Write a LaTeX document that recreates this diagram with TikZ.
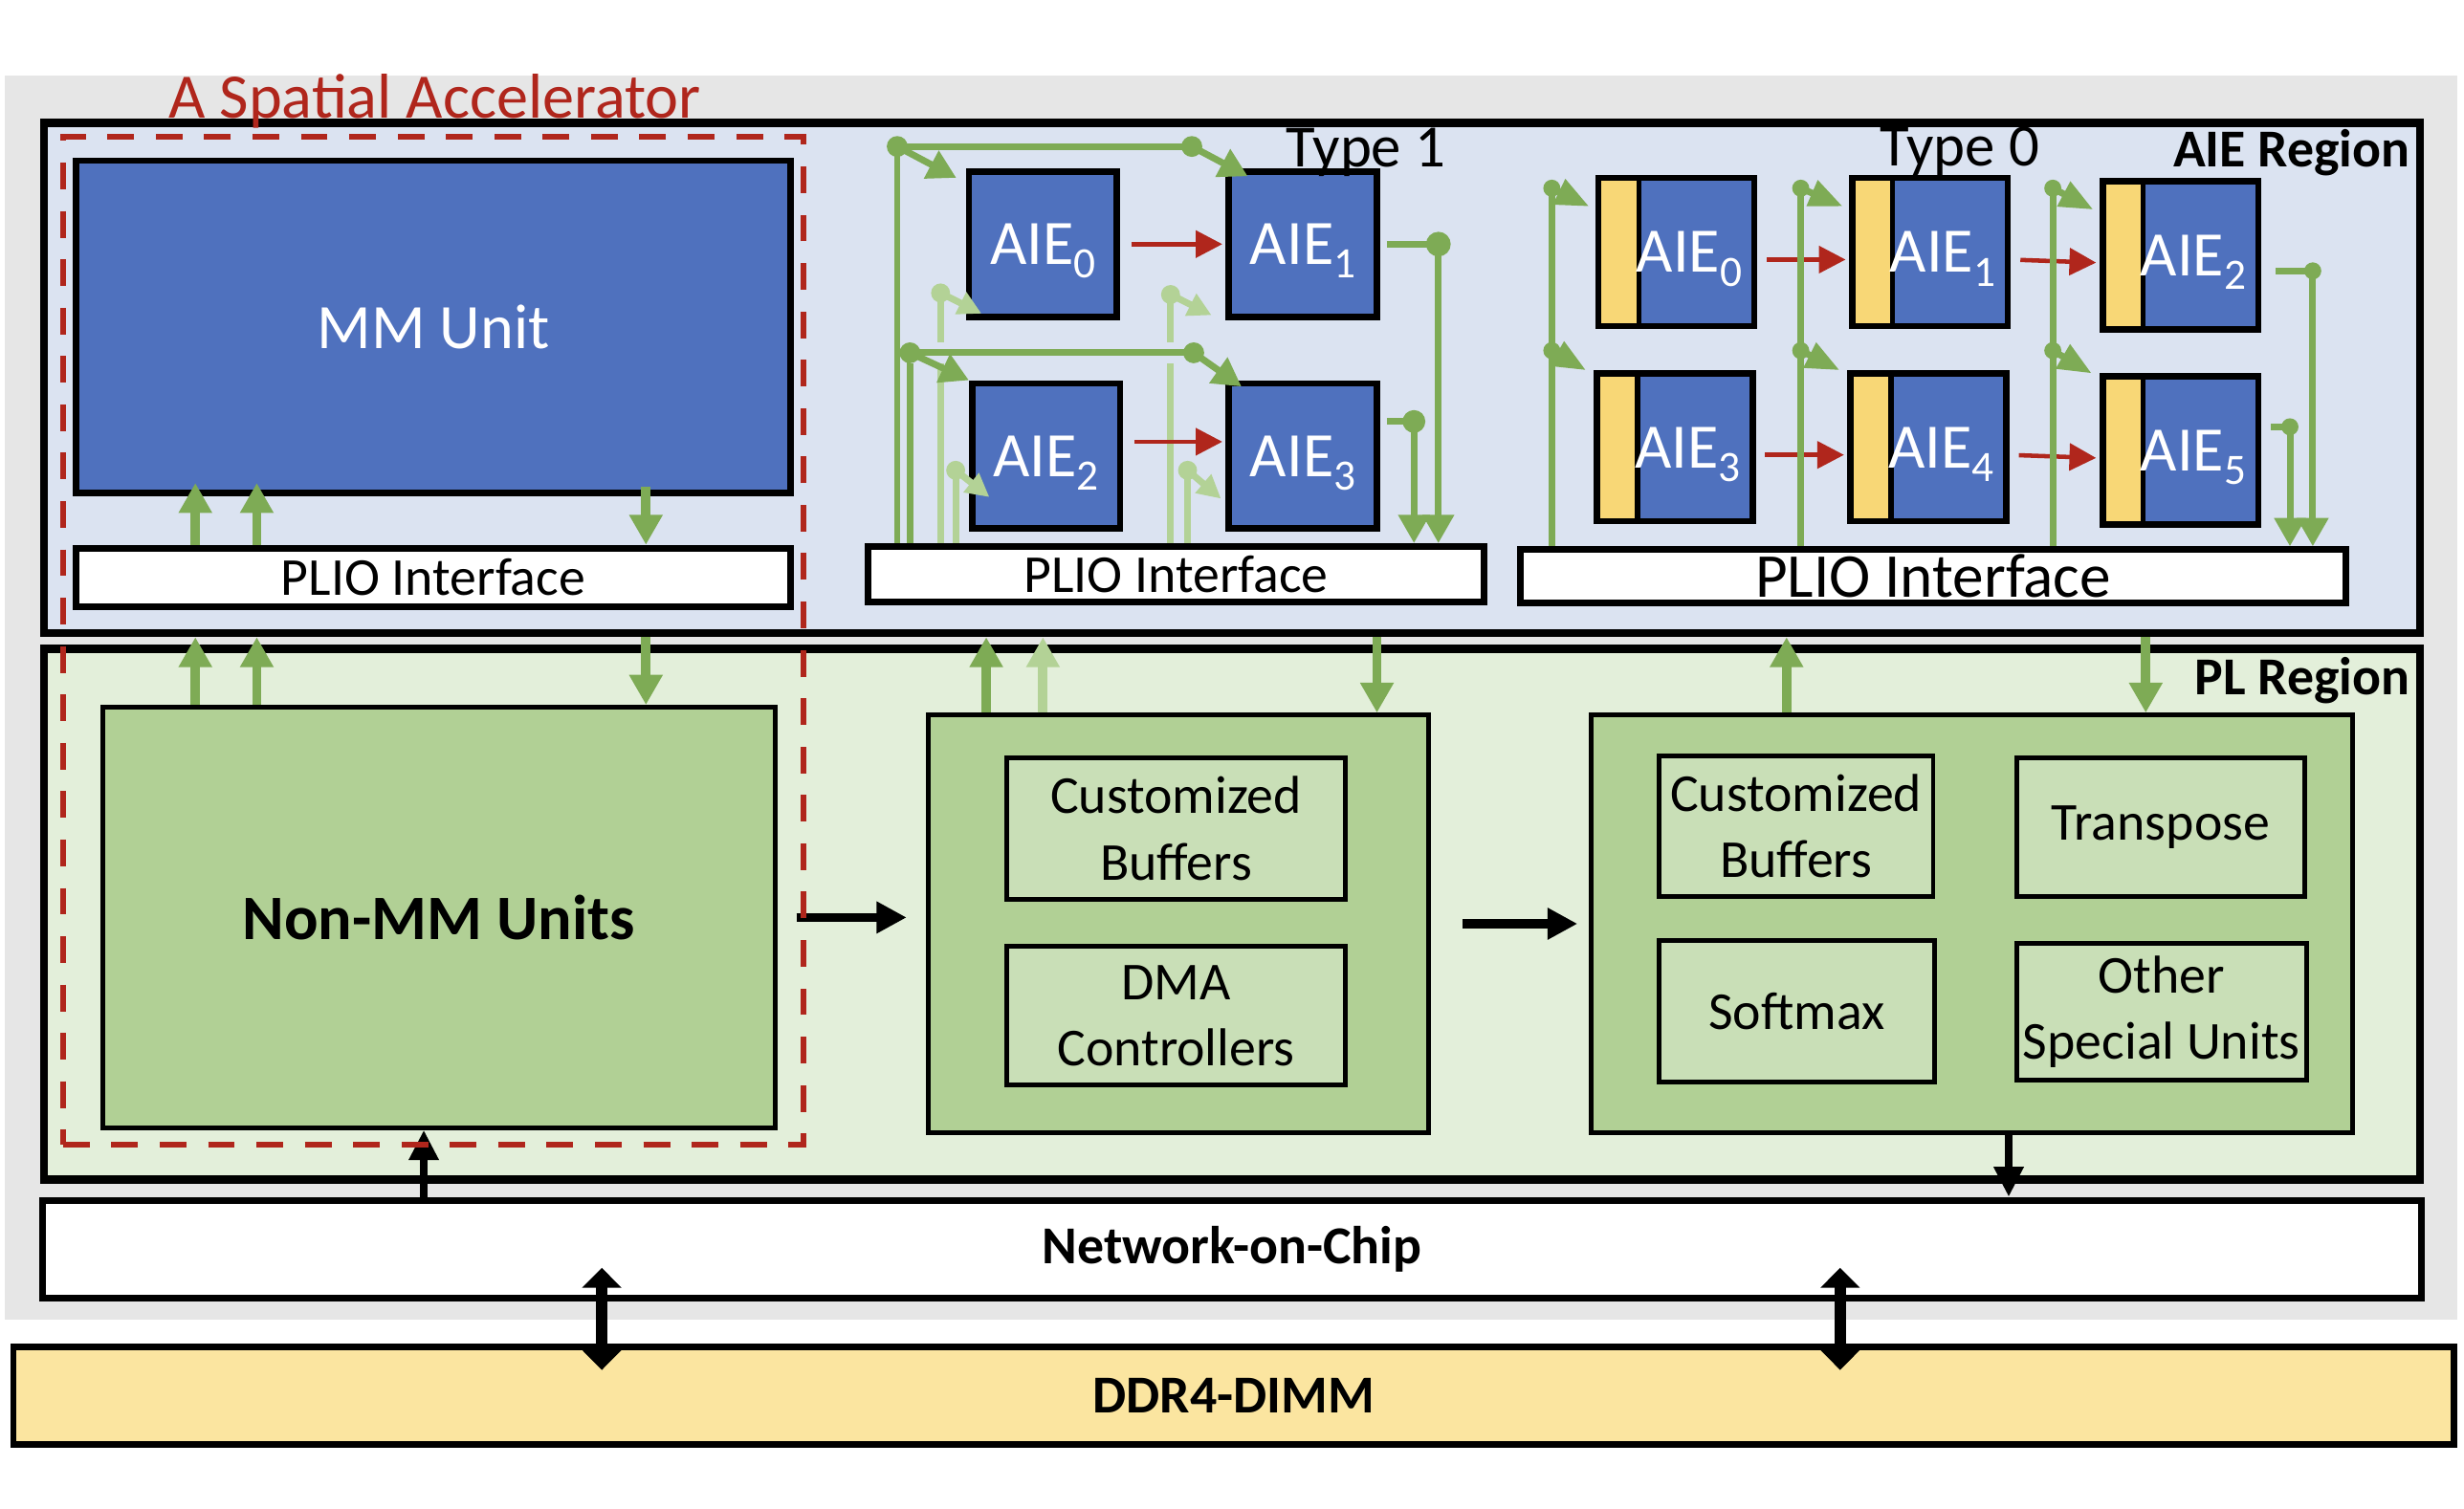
\documentclass[tikz,border=0pt]{standalone}
\usepackage{fontspec}
\setmainfont{Carlito}
\usepackage{xcolor}
\usepackage{tikz}
\usetikzlibrary{arrows.meta}
\definecolor{c_bg}{HTML}{E6E6E6}
\definecolor{c_aie}{HTML}{DBE3F1}
\definecolor{c_pl}{HTML}{E3EFDA}
\definecolor{c_blue}{HTML}{4F71BE}
\definecolor{c_block}{HTML}{B1D095}
\definecolor{c_unit}{HTML}{C9DFB7}
\definecolor{c_ddr}{HTML}{FBE5A0}
\definecolor{c_strip}{HTML}{F8D776}
\definecolor{c_wire}{HTML}{7EAB55}
\definecolor{c_wire2}{HTML}{B3D296}
\definecolor{c_red}{HTML}{B0261C}
\newcommand{\aielab}[1]{AIE\raisebox{-0.45ex}{\fontsize{13}{15}\selectfont #1}}
\tikzset{boxsize/.style 2 args={minimum width=#1*0.0166cm, minimum height=#2*0.0166cm},
region/.style={rectangle, draw=black, line width=2.4pt, inner sep=0pt},
mm-box/.style={rectangle, draw=black, line width=2pt, fill=c_blue, inner sep=0pt, text=white, font=\fontsize{19}{23}\selectfont},
plio-box/.style={rectangle, draw=black, line width=2pt, fill=white, inner sep=0pt, font=\fontsize{16}{19}\selectfont},
pl-box/.style={rectangle, draw=black, line width=1.4pt, fill=c_block, inner sep=0pt},
unit-box/.style={rectangle, draw=black, line width=1.4pt, fill=c_unit, inner sep=0pt, align=center, font=\fontsize{16}{20}\selectfont},
acc-box/.style={rectangle, draw=c_red, line width=1.7pt, dash pattern=on 8pt off 6.5pt, inner sep=0pt},
tile/.style={rectangle, draw=black, line width=1.9pt, fill=c_blue, text=white, inner sep=0pt, text depth=0pt, minimum width=1.56cm, minimum height=1.53cm, font=\fontsize{19}{23}\selectfont},
tile0/.style={tile, minimum width=1.64cm, minimum height=1.56cm, execute at begin node={\hspace*{0.27cm}},
  path picture={\fill[c_strip] (path picture bounding box.north west) rectangle ([xshift=0.4cm]path picture bounding box.south west);
  \draw[black, line width=1.6pt] ([xshift=0.427cm]path picture bounding box.north west) -- ([xshift=0.427cm]path picture bounding box.south west);}},
label-text/.style={inner sep=0pt, font=\fontsize{16}{19}\selectfont\bfseries},
wire/.style={color=c_wire, line width=2pt},
wire2/.style={color=c_wire2, line width=2pt},
warrow/.style={wire, -{Triangle[width=9pt,length=8.5pt]}},
warrow2/.style={wire2, -{Triangle[width=7pt,length=7pt]}},
zarrow/.style={wire, -{Triangle[width=8pt,length=10pt]}},
parrow/.style={color=c_wire, line width=2.8pt, -{Triangle[width=9.5pt,length=9pt]}},
redarrow/.style={color=c_red, line width=1.3pt, -{Triangle[width=8pt,length=8pt]}},
barrow/.style={color=black, line width=2.8pt, -{Triangle[width=9pt,length=9pt]}},
barrow2/.style={color=black, line width=2.2pt, -{Triangle[width=8.5pt,length=9pt]}},
darrow/.style={color=black, line width=3.6pt, {Triangle[width=11.5pt,length=6pt]}-{Triangle[width=11.5pt,length=6pt]}}}

\begin{document}
\begin{tikzpicture}[x=0.0166cm, y=-0.0166cm]
\useasboundingbox (0,0) rectangle (1564,958);
\fill[c_bg] (3,48) rectangle (1560,838);

\node (aie) [region, fill=c_aie, boxsize={1508}{324}] at (782,240) {};
\node (pl) [region, fill=c_pl, boxsize={1508}{337}] at (782,580.5) {};
\node (noc) [region, fill=white, line width=2pt, boxsize={1510}{62}, font=\fontsize{16}{19}\selectfont\bfseries] at (782,793) {Network-on-Chip};
\node (ddr) [region, fill=c_ddr, line width=2pt, boxsize={1549}{62}, font=\fontsize{16}{19}\selectfont\bfseries] at (783,886) {DDR4-DIMM};

\node (mm) [mm-box, boxsize={454}{211}] at (275,207.5) {MM Unit};
\node (plioa) [plio-box, boxsize={454}{37}] at (275,366.5) {PLIO Interface};
\node (pliob) [plio-box, boxsize={391}{35}] at (746.5,364.5) {PLIO Interface};
\node (plioc) [plio-box, boxsize={524}{34}, font=\fontsize{18.7}{22}\selectfont] at (1227,366) {PLIO Interface};

\node (nonmm) [pl-box, boxsize={427}{267}, font=\fontsize{19}{23}\selectfont\bfseries] at (278.5,582.5) {Non-MM Units};
\node (dmablk) [pl-box, boxsize={318}{265}] at (748,586.5) {};
\node (buf1) [unit-box, boxsize={215}{90}] at (746.5,526) {Customized\\Buffers};
\node (dma) [unit-box, boxsize={215}{88}] at (746.5,645) {DMA\\Controllers};
\node (spblk) [pl-box, boxsize={483}{265}] at (1251.5,586.5) {};
\node (buf2) [unit-box, boxsize={174}{89}] at (1140,524.5) {Customized\\Buffers};
\node (trans) [unit-box, boxsize={183}{88}] at (1371.5,525) {Transpose};
\node (softmax) [unit-box, boxsize={175}{90}] at (1140.5,642) {Softmax};
\node (other) [unit-box, boxsize={184}{87}] at (1372,642.5) {Other\\Special Units};

\node (ta0) [tile] at (662,155) {\aielab{0}};
\node (ta1) [tile] at (827,155) {\aielab{1}};
\node (ta2) [tile] at (664,289.5) {\aielab{2}};
\node (ta3) [tile] at (827,289.5) {\aielab{3}};
\foreach \n/\x/\y in {0/1064/160, 1/1225/160, 2/1384/162, 3/1063/284, 4/1224/284, 5/1384/286}
  \node (tz\n) [tile0] at (\x,\y) {\aielab{\n}};

\coordinate (r1) at (569.5,93);
\coordinate (r2) at (756.5,93);
\coordinate (r3) at (577.6,224);
\coordinate (r4) at (757.7,224);
\coordinate (l1) at (597,186);
\coordinate (l2) at (743,187);
\coordinate (l3) at (606.6,298.6);
\coordinate (l4) at (753.8,298.6);
\foreach \p in {l1,l2,l3,l4} {
  \draw[wire2] (\p) -- (\p |- pliob.north);
  \fill[c_wire2] (\p) circle[radius=0.1cm];
}
\draw[warrow2] (l1) -- ([shift={(10,-4)}]ta0.south west);
\draw[warrow2] (l2) -- ([shift={(-9,-3)}]ta1.south west);
\draw[warrow2] (l3) -- ([shift={(13,-22)}]ta2.south west);
\draw[warrow2] (l4) -- ([shift={(-3,-21)}]ta3.south west);
\draw[wire] (r1) -- (r1 |- pliob.north);
\draw[wire] (r3) -- (r3 |- pliob.north);
\draw[wire] (r1) -- (r2);
\draw[wire, preaction={draw=c_aie, line width=6.5pt}] (r3) -- (r4);
\draw[warrow] (r1) -- ([shift={(-6,6)}]ta0.north west);
\draw[warrow] (r2) -- ([shift={(14,5)}]ta1.north west);
\draw[warrow] (r3) -- (ta2.north west);
\draw[warrow] (r4) -- ([shift={(10,4)}]ta3.north west);
\foreach \p in {r1,r2,r3,r4}
  \fill[c_wire] (\p) circle[radius=0.11cm];

\coordinate (o1) at (913,155);
\coordinate (o2) at (897.5,267.6);
\draw[wire, shorten <=2pt] (ta1.east) -- (o1);
\draw[warrow] (o1) -- (o1 |- pliob.north);
\draw[wire, shorten <=2pt] (ta3.east |- o2) -- (o2);
\draw[warrow] (o2) -- (o2 |- pliob.north);
\fill[c_wire] (o1) circle[radius=0.13cm];
\fill[c_wire] (o2) circle[radius=0.12cm];

\draw[redarrow, shorten <=0.12cm, shorten >=1pt] (ta0.east) -- (ta0.east -| ta1.west);
\draw[redarrow, shorten <=0.12cm, shorten >=1pt] ([yshift=0.15cm]ta2.east) -- ([yshift=0.15cm]ta3.west);
\foreach \a/\b in {0/1, 1/2, 3/4, 4/5}
  \draw[redarrow, shorten <=0.1cm, shorten >=1pt] ([yshift=-0.08cm]tz\a.east) -- ([yshift=-0.08cm]tz\b.west);

\foreach \x/\u/\d in {985/0/3, 1143/1/4, 1303/2/5} {
  \coordinate (ju\u) at (\x,119.5);
  \coordinate (jd\d) at (\x,222.6);
  \draw[wire] (ju\u) -- (ju\u |- plioc.north);
  \draw[zarrow] (ju\u) -- ([shift={(-4,20)}]tz\u.north west);
  \draw[zarrow] (jd\d) -- ([shift={(-5,0)}]tz\d.north west);
  \fill[c_wire] (ju\u) circle[radius=0.09cm] (jd\d) circle[radius=0.09cm];
}
\coordinate (p1) at (1468,172);
\coordinate (p2) at (1453.5,271);
\draw[wire, shorten <=0.15cm] (tz2.east |- p1) -- (p1);
\draw[warrow] (p1) -- (p1 |- plioc.north);
\draw[wire, shorten <=0.1cm] (tz5.east |- p2) -- (p2);
\draw[warrow] (p2) -- (p2 |- plioc.north);
\fill[c_wire] (p1) circle[radius=0.09cm] (p2) circle[radius=0.09cm];

\foreach \xx in {124,163} {
  \draw[parrow, shorten >=-4pt] (plioa.north -| \xx,0) -- (mm.south -| \xx,0);
  \draw[parrow] (nonmm.north -| \xx,0) -- (aie.south -| \xx,0);
}
\draw[parrow, shorten <=-3pt] (mm.south -| 410,0) -- (plioa.north -| 410,0);
\draw[parrow] (aie.south -| 410,0) -- (nonmm.north -| 410,0);
\draw[parrow] (dmablk.north -| 626,0) -- (aie.south -| 626,0);
\draw[parrow, color=c_wire2] (dmablk.north -| 662,0) -- (aie.south -| 662,0);
\draw[parrow] (aie.south -| 874,0) -- (dmablk.north -| 874,0);
\draw[parrow] (spblk.north -| 1134,0) -- (aie.south -| 1134,0);
\draw[parrow] (aie.south -| 1362,0) -- (spblk.north -| 1362,0);

\draw[barrow, shorten <=0.2cm, shorten >=0.2cm] (nonmm.east) -- (nonmm.east -| dmablk.west);
\draw[barrow, shorten <=0.33cm, shorten >=0.12cm] (dmablk.east) -- (dmablk.east -| spblk.west);
\draw[barrow2] (noc.north -| 269,0) -- (nonmm.south -| 269,0);
\draw[barrow2] (spblk.south -| 1275,0) -- (noc.north -| 1275,0);
\draw[darrow, shorten <=-10pt, shorten >=-8pt] (noc.south -| 382,0) -- (ddr.north -| 382,0);
\draw[darrow, shorten <=-10pt, shorten >=-8pt] (noc.south -| 1168,0) -- (ddr.north -| 1168,0);

\node (type1) [font=\fontsize{18}{22}\selectfont] at (867,97) {Type 1};
\node (type0) [font=\fontsize{18}{22}\selectfont] at (1244,96) {Type 0};
\node (aiename) [label-text, anchor=east] at (1530,97) {AIE Region};
\node (plname) [label-text, anchor=east] at (1530,432) {PL Region};

\node (acc) [acc-box, boxsize={470}{640}] at (275,407) {};
\node (acctitle) [text=c_red, font=\fontsize{19}{23}\selectfont] at (276,64) {A Spatial Accelerator};
\end{tikzpicture}
\end{document}
